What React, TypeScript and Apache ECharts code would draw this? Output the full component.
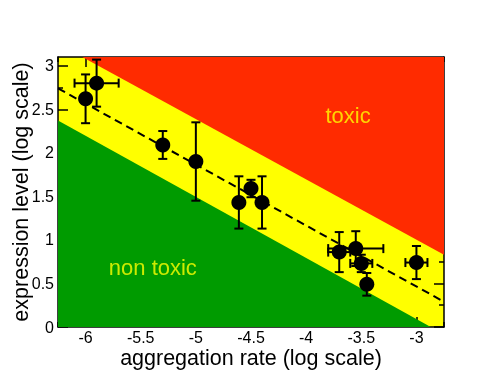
import React, { useEffect, useRef } from 'react';
import * as echarts from 'echarts';

const xMajor = [-6, -5.5, -5, -4.5, -4, -3.5, -3];
const xMinor = [-6.25, -5.75, -5.25, -4.75, -4.25, -3.75, -3.25, -2.75];
const yMajor = [0, 0.5, 1, 1.5, 2, 2.5, 3];
const yMinor = [0.25, 0.75, 1.25, 1.75, 2.25, 2.75];

const rateX = [-6.0, -5.9, -5.3, -5.0, -4.61, -4.5, -4.4, -3.7, -3.55, -3.5, -3.45, -3.0];
const levelY = [2.62, 2.8, 2.09, 1.9, 1.43, 1.59, 1.43, 0.86, 0.9, 0.73, 0.49, 0.74];
const errX = [0, 0.2, 0, 0, 0, 0, 0, 0.1, 0.25, 0.1, 0, 0.1];
const errY = [0.28, 0.27, 0.16, 0.45, 0.3, 0.1, 0.3, 0.23, 0.2, 0.1, 0.13, 0.19];

const fitLine = [[-6.25, 2.74], [-2.75, 0.29]];
const toxicZone = [[-6.03, 3.1], [-2.75, 3.1], [-2.75, 0.83]];
const safeZone = [[-6.25, 2.37], [-6.25, 0], [-2.87, 0]];
const zoneLabels = [
  { name: 'toxic', value: [-3.62, 2.43] },
  { name: 'non toxic', value: [-5.39, 0.68] },
];

const FONT = '"Liberation Sans", Arial, Helvetica, sans-serif';

function zoneSeries(points: number[][], color: string, z: number) {
  return {
    type: 'custom',
    xAxisIndex: 0,
    yAxisIndex: 0,
    z,
    silent: true,
    data: points,
    encode: { x: 0, y: 1 },
    renderItem: (params: any, api: any) => {
      if (params.dataIndex !== 0) return { type: 'group', children: [] };
      return {
        type: 'polygon',
        shape: { points: points.map((p) => api.coord(p)) },
        style: { fill: color, stroke: 'none' },
      };
    },
  };
}

export default function App() {
  const ref = useRef<HTMLDivElement>(null);
  useEffect(() => {
    if (!ref.current) return;
    const chart = echarts.init(ref.current, null, { renderer: 'svg' });
    const xBase = { type: 'value', min: -6.25, max: -2.75, gridIndex: 0, splitLine: { show: false } };
    const yBase = { type: 'value', min: 0, max: 3.1, gridIndex: 0, splitLine: { show: false } };
    const line = { show: true, onZero: false, lineStyle: { color: '#000', width: 1.5 } };
    const noLine = { show: false, onZero: false };
    const tick = (vals: number[], len: number) => ({
      show: true,
      inside: true,
      length: len,
      customValues: vals,
      lineStyle: { color: '#000', width: 1.5 },
    });
    const option: any = {
      animation: false,
      grid: {
        left: 58,
        right: 56,
        top: 57,
        bottom: 59,
        show: true,
        borderWidth: 0,
        backgroundColor: '#ffff00',
        containLabel: false,
        outerBoundsMode: 'none',
      },
      xAxis: [
        {
          ...xBase,
          position: 'bottom',
          axisLine: line,
          axisTick: tick(xMajor, 10),
          axisLabel: { customValues: xMajor, fontSize: 16, lineHeight: 12, color: '#000', margin: 4, fontFamily: FONT },
          name: 'aggregation rate (log scale)',
          nameLocation: 'middle',
          nameGap: 23,
          nameMoveOverlap: false,
          nameTextStyle: { fontSize: 21.5, lineHeight: 16, color: '#000', fontFamily: FONT },
        },
        { ...xBase, position: 'bottom', axisLine: noLine, axisTick: tick(xMinor, 5), axisLabel: { show: false } },
        { ...xBase, position: 'top', axisLine: line, axisTick: tick(xMajor, 10), axisLabel: { show: false } },
        { ...xBase, position: 'top', axisLine: noLine, axisTick: tick(xMinor, 5), axisLabel: { show: false } },
      ],
      yAxis: [
        {
          ...yBase,
          position: 'left',
          axisLine: line,
          axisTick: tick(yMajor, 10),
          axisLabel: { customValues: yMajor, fontSize: 16, color: '#000', margin: 4, fontFamily: FONT },
          name: 'expression level (log scale)',
          nameLocation: 'middle',
          nameGap: 26,
          nameMoveOverlap: false,
          nameTextStyle: { fontSize: 21.5, lineHeight: 22, color: '#000', fontFamily: FONT },
        },
        { ...yBase, position: 'left', axisLine: noLine, axisTick: tick(yMinor, 5), axisLabel: { show: false } },
        { ...yBase, position: 'right', axisLine: line, axisTick: tick(yMajor, 10), axisLabel: { show: false } },
        { ...yBase, position: 'right', axisLine: noLine, axisTick: tick(yMinor, 5), axisLabel: { show: false } },
      ],
      series: [
        zoneSeries(toxicZone, '#ff2b00', 1),
        zoneSeries(safeZone, '#009b00', 1),
        {
          type: 'line',
          xAxisIndex: 0,
          yAxisIndex: 0,
          z: 2,
          data: fitLine,
          symbol: 'none',
          silent: true,
          lineStyle: { color: '#000', width: 2, type: [8, 5] },
        },
        {
          type: 'custom',
          xAxisIndex: 0,
          yAxisIndex: 0,
          z: 3,
          silent: true,
          data: rateX.map((x, i) => [x, levelY[i], errX[i], errY[i]]),
          encode: { x: 0, y: 1 },
          renderItem: (params: any, api: any) => {
            const x = api.value(0);
            const y = api.value(1);
            const ex = api.value(2);
            const ey = api.value(3);
            const cap = 4.5;
            const st = { stroke: '#000', lineWidth: 2 };
            const children: any[] = [];
            const top = api.coord([x, y + ey]);
            const bot = api.coord([x, y - ey]);
            children.push({ type: 'line', shape: { x1: top[0], y1: top[1], x2: bot[0], y2: bot[1] }, style: st });
            children.push({ type: 'line', shape: { x1: top[0] - cap, y1: top[1], x2: top[0] + cap, y2: top[1] }, style: st });
            children.push({ type: 'line', shape: { x1: bot[0] - cap, y1: bot[1], x2: bot[0] + cap, y2: bot[1] }, style: st });
            if (ex > 0) {
              const l = api.coord([x - ex, y]);
              const r = api.coord([x + ex, y]);
              children.push({ type: 'line', shape: { x1: l[0], y1: l[1], x2: r[0], y2: r[1] }, style: st });
              children.push({ type: 'line', shape: { x1: l[0], y1: l[1] - cap, x2: l[0], y2: l[1] + cap }, style: st });
              children.push({ type: 'line', shape: { x1: r[0], y1: r[1] - cap, x2: r[0], y2: r[1] + cap }, style: st });
            }
            return { type: 'group', children };
          },
        },
        {
          type: 'scatter',
          xAxisIndex: 0,
          yAxisIndex: 0,
          z: 4,
          silent: true,
          symbol: 'circle',
          symbolSize: 15,
          itemStyle: { color: '#000', opacity: 1 },
          data: rateX.map((x, i) => [x, levelY[i]]),
        },
        {
          type: 'scatter',
          xAxisIndex: 0,
          yAxisIndex: 0,
          z: 5,
          silent: true,
          symbolSize: 0,
          data: zoneLabels,
          label: {
            show: true,
            position: 'inside',
            formatter: (p: any) => p.name,
            color: '#ffff00',
            fontSize: 22,
            fontFamily: FONT,
          },
        },
      ],
    };
    chart.setOption(option);
    return () => chart.dispose();
  }, []);
  return <div ref={ref} style={{ width: 500, height: 386, position: 'fixed', left: 0, top: 0 }} />;
}
